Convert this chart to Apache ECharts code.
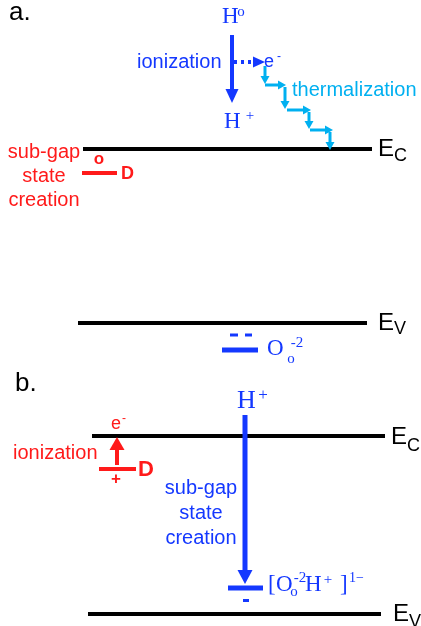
<!DOCTYPE html>
<html><head><meta charset="utf-8">
<script src="https://cdn.jsdelivr.net/npm/echarts@6/dist/echarts.min.js"></script>
<style>html,body{margin:0;padding:0;background:#fff}#c{width:421px;height:626px}</style>
</head><body><div id="c"></div>
<script>
// ---- diagram data (in diagram units: x across, y = energy position, top-down) ----
const bandEdges = [[83,372,149],[78,367,323],[92,385,436],[88,381,614]];      // [x0,x1,y] EC/EV
const donorLevels = [[82,117,173],[99,136,469]];                               // red D levels
const hydrogenLevels = [[222,258,350],[228,263,588]];                          // blue O / OH levels
const chargeMarks = [[230,238,335],[245,252,335],[243,249,600.5]];             // small charge dashes
const hArrows = [[232,35,232,103],[245,415,245,584]];                          // H arrows
const donorArrow = [[117,465,117,437]];                                        // red ionization arrow
const electronArrow = [[234,62,265,62]];                                       // dotted e- arrow
const thermalSteps = [[265,66,265,84],[265,85,286,85],[285,87,285,109],[287,110,311,110],
                      [309,112,309,129],[310,130,333,130],[330,132,330,150]];
const texts = [
  ['a.',9,13,'panel'],['b.',15,384,'panel'],
  ['E',378,149,'E'],['C',394,156,'Esub'],
  ['E',378,323,'E'],['V',394,329,'Esub'],
  ['E',391,437,'E'],['C',407,446,'Esub'],
  ['E',393,614,'E'],['V',409,622,'Esub'],
  ['ionization',137,62,'blue'],
  ['thermalization',292,90,'thermal'],
  ['e',264,62,'eBlue'],['-',279,57,'eSupBlue'],
  ['H',222,17,'Hs'],['o',241,12,'supSerif'],
  ['H',224,122,'Hs'],['+',250,116,'supSerif'],
  ['O',267,349,'O'],['-2',297,343,'supSerif'],['o',291,359,'supSerif'],
  ['sub-gap',44,152,'redC'],['state',44,176,'redC'],['creation',44,200,'redC'],
  ['o',99,159,'redBoldS'],['D',121,174,'redBoldA'],
  ['ionization',13,453,'red'],
  ['e',111,424,'eRed'],['-',124,419,'eSupRed'],
  ['+',116,479,'redBoldS'],['D',138,470,'redBoldB'],
  ['H',237,401,'Hb'],['+',263,396,'supSerifB'],
  ['sub-gap',201,488,'blueC'],['state',201,513,'blueC'],['creation',201,538,'blueC'],
  ['[',268,585,'O'],['O',276,585,'O'],['-2',300,578,'supSerif'],['o',294,592,'supSerif'],
  ['H',305,585,'O'],['+',328,580,'supSerif'],[']',340,585,'O'],['1\u2212',349,578,'supSerifL']
];
const xRange = [0, 421];
const yRange = [0, 626];

// ---- styles ----
const BLUE = '#1438ff', LBLUE = '#00b0f0', RED = '#ff1a1a', BLACK = '#000';
const SANS = '"Liberation Sans", Arial, sans-serif', SERIF = '"Liberation Serif", "Times New Roman", serif';
const textStyles = {
  panel:{font:'26px '+SANS, color:BLACK, align:'left'},
  E:{font:'24px '+SANS, color:BLACK, align:'left'},
  Esub:{font:'18px '+SANS, color:BLACK, align:'left'},
  blue:{font:'20px '+SANS, color:BLUE, align:'left'},
  blueC:{font:'20px '+SANS, color:BLUE, align:'center'},
  thermal:{font:'20px '+SANS, color:LBLUE, align:'left'},
  eBlue:{font:'18px '+SANS, color:BLUE, align:'left'},
  eSupBlue:{font:'12px '+SANS, color:BLUE, align:'center'},
  red:{font:'20px '+SANS, color:RED, align:'left'},
  redC:{font:'20px '+SANS, color:RED, align:'center'},
  eRed:{font:'18px '+SANS, color:RED, align:'left'},
  eSupRed:{font:'12px '+SANS, color:RED, align:'center'},
  redBoldS:{font:'bold 17px '+SANS, color:RED, align:'center'},
  redBoldA:{font:'bold 18px '+SANS, color:RED, align:'left'},
  redBoldB:{font:'bold 22px '+SANS, color:RED, align:'left'},
  Hs:{font:'23px '+SERIF, color:BLUE, align:'left'},
  Hb:{font:'26px '+SERIF, color:BLUE, align:'left'},
  O:{font:'23px '+SERIF, color:BLUE, align:'left'},
  supSerif:{font:'15px '+SERIF, color:BLUE, align:'center'},
  supSerifB:{font:'17px '+SERIF, color:BLUE, align:'center'},
  supSerifL:{font:'14px '+SERIF, color:BLUE, align:'left'}
};

var chart = echarts.init(document.getElementById('c'), null, {renderer:'canvas'});

function segSeries(arr, color, width){
  return {type:'custom', coordinateSystem:'cartesian2d', silent:true, clip:false,
    data: arr.map(function(v){return [v[0],v[2],v[1]];}),
    renderItem:function(params, api){
      var v = arr[params.dataIndex];
      var a = api.coord([v[0], v[2]]), b = api.coord([v[1], v[2]]);
      return {type:'line', shape:{x1:a[0],y1:a[1],x2:b[0],y2:b[1]}, style:{stroke:color, lineWidth:width}};
    }};
}
function arrowSeries(arr, color, shaftW, headW, headL, dash){
  return {type:'custom', coordinateSystem:'cartesian2d', silent:true, clip:false,
    data: arr.map(function(v){return [v[0],v[1],v[2],v[3]];}),
    renderItem:function(params, api){
      var v = arr[params.dataIndex];
      var a = api.coord([v[0], v[1]]), b = api.coord([v[2], v[3]]);
      var dx=b[0]-a[0], dy=b[1]-a[1], len=Math.hypot(dx,dy)||1;
      var ux=dx/len, uy=dy/len, nx=-uy, ny=ux;
      var bx=b[0]-ux*headL, by=b[1]-uy*headL;
      return {type:'group', children:[
        {type:'line', shape:{x1:a[0],y1:a[1],x2:bx+ux,y2:by+uy},
          style:{stroke:color, lineWidth:shaftW, lineDash:dash||null}},
        {type:'polygon', shape:{points:[[b[0],b[1]],[bx+nx*headW/2,by+ny*headW/2],[bx-nx*headW/2,by-ny*headW/2]]},
          style:{fill:color}}
      ]};
    }};
}
var textSeries = {type:'custom', coordinateSystem:'cartesian2d', silent:true, clip:false,
  data: texts.map(function(t){return [t[1],t[2]];}),
  renderItem:function(params, api){
    var t = texts[params.dataIndex];
    var s = textStyles[t[3]];
    var p = api.coord([t[1], t[2]]);
    return {type:'text', x:p[0], y:p[1],
      style:{text:t[0], font:s.font, fill:s.color, align:s.align, verticalAlign:'middle'}};
  }};

chart.setOption({
  animation:false,
  backgroundColor:'#fff',
  grid:{left:0,right:0,top:0,bottom:0},
  xAxis:{type:'value', min:xRange[0], max:xRange[1], show:false},
  yAxis:{type:'value', min:yRange[0], max:yRange[1], inverse:true, show:false},
  series:[
    segSeries(bandEdges, BLACK, 4),
    segSeries(donorLevels, RED, 4),
    segSeries(hydrogenLevels, BLUE, 5),
    segSeries(chargeMarks, BLUE, 3),
    arrowSeries([hArrows[0]], BLUE, 4, 13, 14),
    arrowSeries([hArrows[1]], BLUE, 5, 15, 14),
    arrowSeries(donorArrow, RED, 4, 15, 13),
    arrowSeries(electronArrow, BLUE, 4, 11, 12, [3,4]),
    arrowSeries(thermalSteps, LBLUE, 3, 9, 8),
    textSeries
  ]
});
</script></body></html>
